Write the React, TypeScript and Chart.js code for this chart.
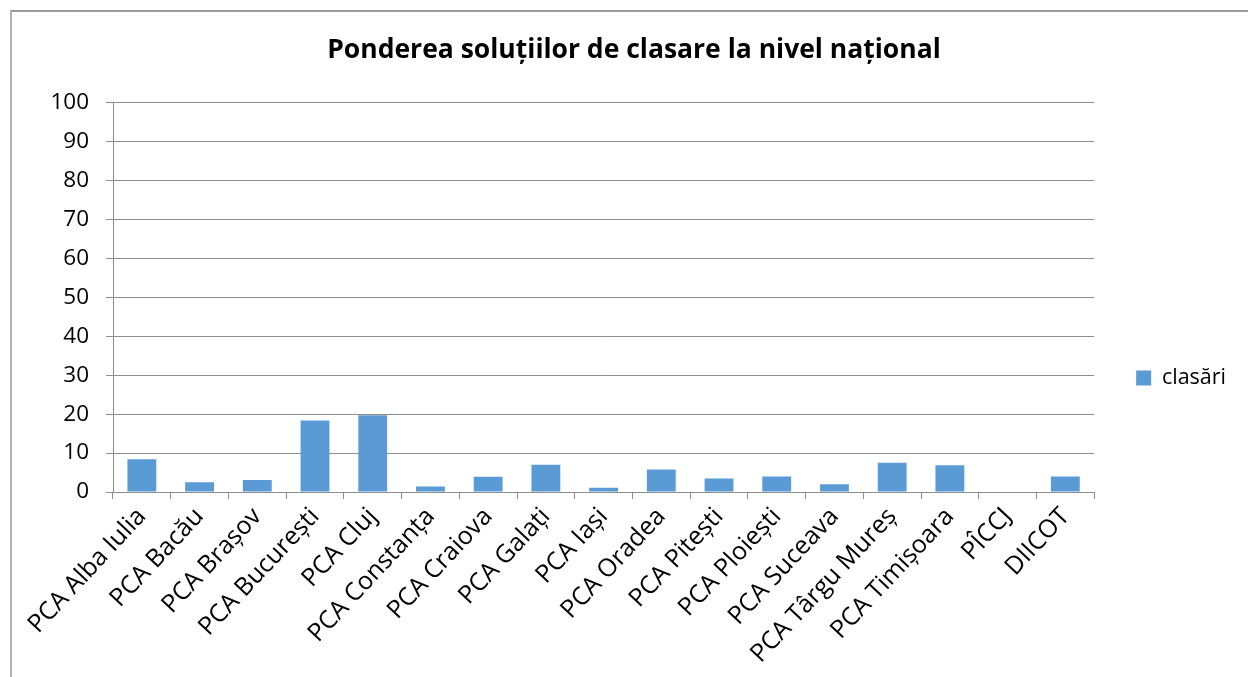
import React, { useEffect, useRef } from "react";
import { Chart, registerables } from "chart.js";

Chart.register(...registerables);

const chartTitle = "Ponderea soluțiilor de clasare la nivel național";
const seriesLabel = "clasări";
const categories = [
  "PCA Alba Iulia",
  "PCA Bacău",
  "PCA Brașov",
  "PCA București",
  "PCA Cluj",
  "PCA Constanța",
  "PCA Craiova",
  "PCA Galați",
  "PCA Iași",
  "PCA Oradea",
  "PCA Pitești",
  "PCA Ploiești",
  "PCA Suceava",
  "PCA Târgu Mureș",
  "PCA Timișoara",
  "PÎCCJ",
  "DIICOT",
];
const clasari = [8.4, 2.5, 3.1, 18.4, 19.7, 1.4, 3.9, 7.0, 1.1, 5.8, 3.5, 4.0, 2.0, 7.5, 6.9, 0.1, 4.0];
const yMin = 0;
const yMax = 100;
const yStep = 10;

const FONT = "'Open Sans', 'Noto Sans', sans-serif";
const GRID = "#8e8e8e";
const BAR = "#5B9BD5";

const CANVAS_W = 1244;
const CANVAS_H = 732;

export default function App() {
  const ref = useRef<HTMLCanvasElement | null>(null);

  useEffect(() => {
    if (!ref.current) return;
    const chart = new Chart(ref.current, {
      type: "bar",
      data: {
        labels: categories,
        datasets: [
          {
            label: seriesLabel,
            data: clasari,
            backgroundColor: BAR,
            borderWidth: 0,
            barPercentage: 0.5,
            categoryPercentage: 1,
          },
        ],
      },
      options: {
        animation: false,
        responsive: false,
        devicePixelRatio: 1,
        layout: { padding: { left: 20, top: 0, bottom: 0, right: 20 } },
        plugins: {
          title: {
            display: true,
            text: chartTitle,
            color: "#000",
            font: { family: FONT, size: 26.5, weight: "bold" },
            padding: { top: 23, bottom: 36 },
          },
          legend: {
            position: "right",
            labels: {
              boxWidth: 15,
              boxHeight: 15,
              padding: 42,
              color: "#000",
              font: { family: FONT, size: 21.5 },
            },
          },
          tooltip: { enabled: false },
        },
        scales: {
          x: {
            grid: {
              display: true,
              drawOnChartArea: false,
              drawTicks: true,
              tickLength: 7,
              color: GRID,
              offset: true,
            },
            border: { color: GRID },
            ticks: {
              minRotation: 47,
              maxRotation: 47,
              autoSkip: false,
              color: "#000",
              padding: 3,
              font: { family: FONT, size: 25 },
            },
            afterFit: (s: any) => {
              s.height = 252;
            },
          },
          y: {
            min: yMin,
            max: yMax,
            ticks: {
              stepSize: yStep,
              color: "#000",
              padding: 17,
              font: { family: FONT, size: 22.5 },
            },
            grid: { color: GRID, tickLength: 7 },
            border: { color: GRID },
            afterFit: (s: any) => {
              s.width = 81;
            },
          },
        },
      },
    });
    return () => chart.destroy();
  }, []);

  return (
    <div
      style={{
        position: "absolute",
        left: 0,
        top: 0,
        width: 1248,
        height: 677,
        overflow: "hidden",
        background: "#fff",
      }}
    >
      <div
        style={{
          position: "absolute",
          left: 10,
          top: 10,
          width: 1400,
          height: 800,
          borderLeft: "2px solid #b4b4b4",
          borderTop: "2px solid #9a9a9a",
          boxSizing: "border-box",
        }}
      />
      <canvas
        ref={ref}
        width={CANVAS_W}
        height={CANVAS_H}
        style={{ position: "absolute", left: 12, top: 12, display: "block" }}
      />
    </div>
  );
}
